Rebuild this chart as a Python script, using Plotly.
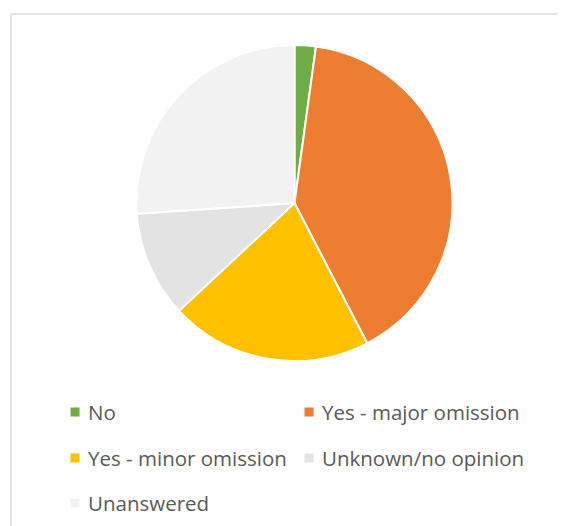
import plotly.graph_objects as go

labels = ["No", "Yes - major omission", "Yes - minor omission", "Unknown/no opinion", "Unanswered"]
values = [2, 37, 19, 10, 24]
colors = ["#70AD47", "#ED7D31", "#FFC000", "#E3E3E3", "#F2F2F2"]

# page body has an 8px margin; the figure is sized to fit inside the window
OFF = 8
W, H = 566 - OFF, 526 - OFF
cx, cy, r = 294.5 - OFF, 203 - OFF, 158

fig = go.Figure(go.Pie(
    labels=labels, values=values, sort=False, direction="clockwise", rotation=0,
    marker=dict(colors=colors, line=dict(color="white", width=2)),
    textinfo="none", showlegend=False,
    domain=dict(x=[(cx - r) / W, (cx + r) / W], y=[1 - (cy + r) / H, 1 - (cy - r) / H]),
))

# frame
fig.add_shape(type="rect", xref="paper", yref="paper",
              x0=(11 - OFF) / W, x1=1.2, y0=-0.2, y1=1 - (14 - OFF) / H,
              line=dict(color="#D9D9D9", width=1.5), fillcolor="rgba(0,0,0,0)", layer="below")

# legend (two columns)
leg_pos = [(75, 412), (309, 412), (75, 458), (309, 458), (75, 503)]
for lab, col, (mx, my) in zip(labels, colors, leg_pos):
    mx -= OFF
    my -= OFF
    fig.add_shape(type="rect", xref="paper", yref="paper",
                  x0=(mx - 4.5) / W, x1=(mx + 4.5) / W,
                  y0=1 - (my + 4.5) / H, y1=1 - (my - 4.5) / H,
                  line=dict(width=0), fillcolor=col)
    fig.add_annotation(x=(mx + 11) / W, y=1 - my / H, xref="paper", yref="paper",
                       text=lab, showarrow=False, xanchor="left", yanchor="middle",
                       font=dict(family="Open Sans", size=20.5, color="#595959"))

fig.update_layout(width=W, height=H, margin=dict(l=0, r=0, t=0, b=0),
                  paper_bgcolor="white", plot_bgcolor="white")
fig.write_html("out.html")
